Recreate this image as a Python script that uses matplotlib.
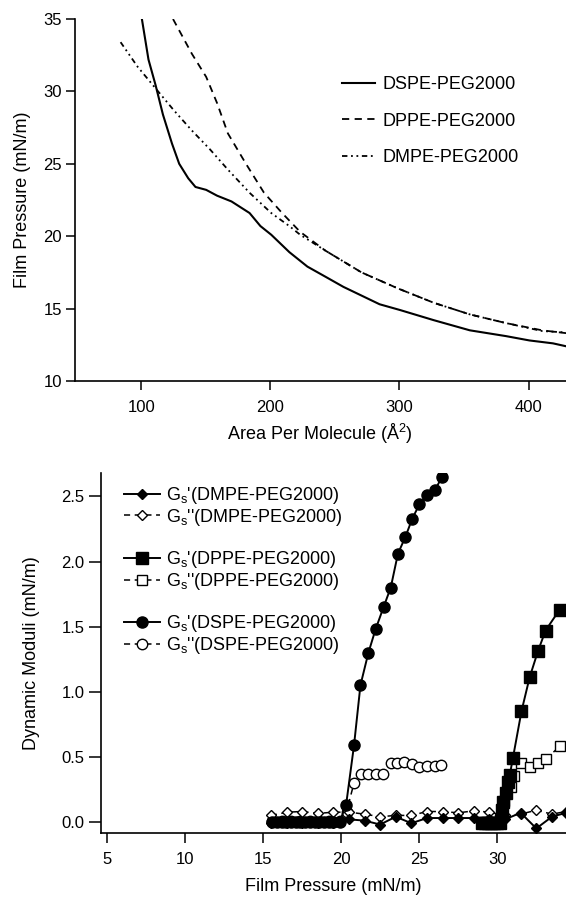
import matplotlib
matplotlib.use("Agg")
import matplotlib.pyplot as plt
from matplotlib.lines import Line2D

plt.rcParams['font.family'] = ['Liberation Sans', 'DejaVu Sans']
plt.rcParams['mathtext.default'] = 'regular'

# isotherms: area per molecule (A^2) vs film pressure (mN/m)
dspe_area = [100.5, 105.6, 111.2, 116.8, 123.8, 129.4, 136.4, 142, 150.3, 158.7, 169.9,
             183.9, 192.3, 200.7, 214.7, 228.7, 242.7, 256.6, 270.6, 284.6, 300.5,
             326.6, 354.5, 382.5, 400.7, 418.9, 429]
dspe_pi = [35, 32.2, 30.4, 28.4, 26.4, 25.0, 24.0, 23.4, 23.2, 22.8, 22.4,
           21.6, 20.7, 20.1, 18.9, 17.9, 17.2, 16.5, 15.9, 15.3, 14.9,
           14.2, 13.5, 13.1, 12.8, 12.6, 12.4]

dppe_area = [124.6, 139.2, 150.3, 158.7, 167.1, 181.1, 195.1, 209.1, 223.1, 242.7,
             270.6, 298.6, 326.6, 354.5, 382.5, 410.5, 429.5]
dppe_pi = [35, 32.6, 31.0, 29.2, 27.1, 25.0, 23.0, 21.6, 20.3, 19.0,
           17.5, 16.4, 15.4, 14.6, 14.0, 13.5, 13.3]

dmpe_area = [84, 97.2, 111.2, 125.2, 139.2, 153.2, 167.1, 183.9, 200.7, 214.7, 223.1,
             242.7, 270.6, 298.6, 326.6, 354.5, 382.5, 410.5, 429.5]
dmpe_pi = [33.4, 31.7, 30.2, 28.7, 27.3, 26.0, 24.6, 23.0, 21.6, 20.7, 20.1,
           19.0, 17.5, 16.4, 15.4, 14.6, 14.0, 13.45, 13.35]

# dynamic moduli vs film pressure
dmpe_x = [15.5, 16.55, 17.5, 18.5, 19.5, 20.5, 21.5, 22.5, 23.5, 24.5, 25.5, 26.5,
          27.5, 28.5, 29.5, 30.5, 31.5, 32.5, 33.5, 34.4]
dmpe_g1 = [-0.01, -0.01, -0.01, -0.01, -0.01, 0.02, 0.01, -0.02, 0.04, -0.01, 0.03, 0.03,
           0.03, 0.03, 0.02, 0.02, 0.07, -0.05, 0.04, 0.07]
dmpe_g2 = [0.05, 0.075, 0.08, 0.065, 0.075, 0.075, 0.06, 0.04, 0.05, 0.05, 0.08, 0.08,
           0.07, 0.085, 0.075, 0.05, 0.06, 0.09, 0.06, 0.08]

dppe_x = [29.0, 29.2, 29.4, 29.6, 29.8, 30.0, 30.15, 30.3, 30.38, 30.53, 30.7, 30.8,
          31.0, 31.55, 32.07, 32.6, 33.09, 33.99]
dppe_g1 = [-0.01, -0.01, -0.01, -0.01, -0.01, -0.01, -0.01, 0.09, 0.15, 0.22, 0.31, 0.36,
           0.49, 0.85, 1.11, 1.31, 1.47, 1.63]
dppe_x2 = [29.0, 29.3, 29.6, 29.9, 30.15, 30.42, 30.85, 31.1, 31.55, 32.07, 32.6, 33.09, 33.99]
dppe_g2 = [0.0, 0.0, 0.0, 0.0, 0.02, 0.16, 0.27, 0.35, 0.455, 0.42, 0.455, 0.48, 0.58]

dspe_x = [15.6, 15.9, 16.2, 16.5, 16.8, 17.1, 17.4, 17.7, 18.0, 18.3, 18.6, 18.9, 19.2,
          19.5, 19.9, 20.32, 20.83, 21.24, 21.75, 22.21, 22.72, 23.18, 23.64, 24.12,
          24.56, 25.02, 25.53, 26.01, 26.47]
dspe_g1 = [0.0] * 15 + [0.13, 0.59, 1.05, 1.30, 1.48, 1.65, 1.80, 2.06, 2.19,
                        2.33, 2.44, 2.51, 2.55, 2.65]
dspe_x2 = [15.6, 16.2, 16.8, 17.4, 18.0, 18.6, 19.2, 19.9, 20.35, 20.83, 21.29, 21.75,
           22.21, 22.67, 23.18, 23.6, 24.06, 24.52, 25.02, 25.53, 26.01, 26.4]
dspe_g2 = [0.01] * 8 + [0.08, 0.30, 0.37, 0.37, 0.37, 0.37, 0.45, 0.455, 0.46, 0.445,
                        0.42, 0.43, 0.43, 0.44]

W, H = 566, 899
fig = plt.figure(figsize=(W / 100, H / 100), dpi=100)

# ---- top: isotherms ----
ax1 = fig.add_axes([74.5 / W, 518 / H, 1 - 74.5 / W, 362 / H])
ax1.plot(dspe_area, dspe_pi, color='black', lw=1.5, label='DSPE-PEG2000')
ax1.plot(dppe_area, dppe_pi, color='black', lw=1.3, ls=(0, (4, 3)), label='DPPE-PEG2000')
ax1.plot(dmpe_area, dmpe_pi, color='black', lw=1.3, ls=(0, (3, 2, 1, 2, 1, 2)),
         label='DMPE-PEG2000')
ax1.set_xlim(48.3, 429)
ax1.set_ylim(10, 35)
ax1.set_xticks([100, 200, 300, 400])
ax1.set_yticks([10, 15, 20, 25, 30, 35])
ax1.set_xlabel('Area Per Molecule (Å$^2$)', fontsize=13, labelpad=5)
ax1.set_ylabel('Film Pressure (mN/m)', fontsize=13, labelpad=9)
ax1.tick_params(direction='out', length=6.5, width=1.1, labelsize=12)
ax1.tick_params(axis='x', pad=7)
ax1.tick_params(axis='y', pad=2.5)
leg1 = ax1.legend(loc='upper left', bbox_to_anchor=(342 / W, 1 - 76 / H),
                  bbox_transform=fig.transFigure, frameon=False, fontsize=13,
                  handlelength=1.85, handletextpad=0.4, labelspacing=1.08,
                  borderpad=0, borderaxespad=0)

# ---- bottom: dynamic moduli ----
ax2 = fig.add_axes([101 / W, 66 / H, 1 - 101 / W, 360 / H])
ax2.plot(dspe_x2, dspe_g2, color='black', lw=1.1, ls=(0, (4, 3)), marker='o', ms=7.5,
         mfc='white', mec='black', mew=1.0, label="G$_s$''(DSPE-PEG2000)", zorder=3)
ax2.plot(dppe_x2, dppe_g2, color='black', lw=1.1, ls=(0, (4, 3)), marker='s', ms=7.5,
         mfc='white', mec='black', mew=1.0, label="G$_s$''(DPPE-PEG2000)", zorder=3)
ax2.plot(dmpe_x, dmpe_g2, color='black', lw=1.1, ls=(0, (4, 3)), marker='D', ms=5.5,
         mfc='white', mec='black', mew=1.0, label="G$_s$''(DMPE-PEG2000)", zorder=3)
ax2.plot(dmpe_x, dmpe_g1, color='black', lw=1.4, marker='D', ms=5.5,
         mfc='black', mec='black', label="G$_s$'(DMPE-PEG2000)", zorder=4)
ax2.plot(dppe_x, dppe_g1, color='black', lw=1.4, marker='s', ms=8,
         mfc='black', mec='black', label="G$_s$'(DPPE-PEG2000)", zorder=4)
ax2.plot(dspe_x, dspe_g1, color='black', lw=1.4, marker='o', ms=8,
         mfc='black', mec='black', label="G$_s$'(DSPE-PEG2000)", zorder=4)
ax2.set_xlim(4.63, 34.4)
ax2.set_ylim(-0.085, 2.68)
ax2.set_xticks([5, 10, 15, 20, 25, 30])
ax2.set_yticks([0.0, 0.5, 1.0, 1.5, 2.0, 2.5])
ax2.set_yticklabels(['0.0', '0.5', '1.0', '1.5', '2.0', '2.5'])
ax2.set_xlabel('Film Pressure (mN/m)', fontsize=13, labelpad=8)
ax2.set_ylabel('Dynamic Moduli (mN/m)', fontsize=13, labelpad=15)
ax2.tick_params(direction='out', width=1.1, labelsize=12)
ax2.tick_params(axis='x', length=7.5, pad=6)
ax2.tick_params(axis='y', length=8.5, pad=3.5)

hs, ls = ax2.get_legend_handles_labels()
lookup = dict(zip(ls, hs))
blank = Line2D([], [], ls='none')
order = ["G$_s$'(DMPE-PEG2000)", "G$_s$''(DMPE-PEG2000)", None,
         "G$_s$'(DPPE-PEG2000)", "G$_s$''(DPPE-PEG2000)", None,
         "G$_s$'(DSPE-PEG2000)", "G$_s$''(DSPE-PEG2000)"]
handles = [lookup[k] if k else blank for k in order]
labels = [k if k else "G$_s$'" for k in order]
leg2 = ax2.legend(handles, labels, loc='upper left', bbox_to_anchor=(124 / W, 1 - 485 / H),
                  bbox_transform=fig.transFigure, frameon=False, fontsize=13,
                  handlelength=2.0, handletextpad=0.35, labelspacing=0.04,
                  borderpad=0, borderaxespad=0, numpoints=1)
for k, t in zip(order, leg2.get_texts()):
    if k is None:
        t.set_color('none')

for ax in (ax1, ax2):
    ax.spines['top'].set_visible(False)
    ax.spines['right'].set_visible(False)
    ax.spines['left'].set_linewidth(1.2)
    ax.spines['bottom'].set_linewidth(1.2)

fig.savefig('out.png', dpi=100)
